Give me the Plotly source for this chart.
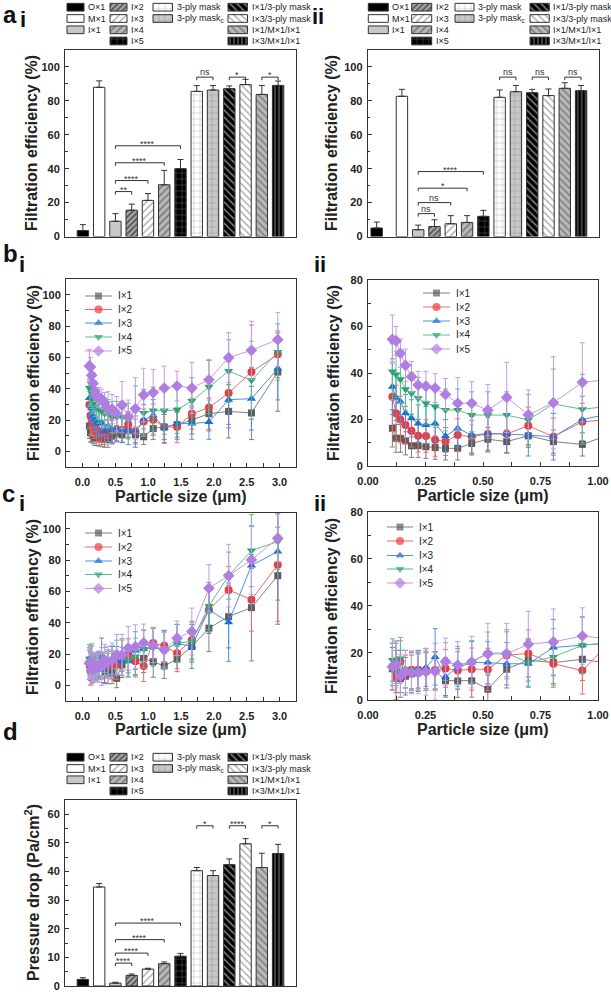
import plotly.graph_objects as go

# ======================= DATA =======================
bar_labels = ["O×1", "M×1", "I×1", "I×2", "I×3", "I×4", "I×5",
              "3-ply mask", "3-ply mask<sub>c</sub>", "I×1/3-ply mask",
              "I×3/3-ply mask", "I×1/M×1/I×1", "I×3/M×1/I×1"]

# panel a-i : filtration efficiency (%)
fe_i = [3.5, 88.0, 9.0, 15.5, 21.3, 30.5, 40.0, 85.6, 86.4, 87.2, 89.6, 83.8, 89.1]
fe_i_err = [3.5, 3.8, 4.5, 3.6, 4.0, 8.5, 5.4, 3.4, 2.6, 1.6, 3.1, 5.3, 2.6]
# panel a-ii
fe_ii = [5.0, 82.7, 4.0, 5.9, 7.5, 8.3, 11.9, 82.1, 85.4, 84.8, 83.1, 87.4, 86.0]
fe_ii_err = [3.5, 4.1, 2.7, 4.0, 4.8, 4.0, 3.5, 4.3, 3.7, 2.0, 3.9, 3.3, 3.1]
# panel d : pressure drop (Pa/cm2)
pdrop = [2.3, 34.6, 1.0, 3.7, 5.9, 7.8, 10.4, 40.3, 38.6, 42.4, 49.7, 41.4, 46.3]
pdrop_err = [0.6, 1.2, 0.3, 0.5, 0.3, 0.6, 1.0, 1.1, 1.7, 2.0, 1.8, 5.0, 3.2]

# significance brackets: (bar index 1, bar index 2, label, height)
sig_fe_i = [(2, 3, "**", 26.5), (2, 4, "****", 33.0), (2, 5, "****", 43.5), (2, 6, "****", 53.5),
            (7, 8, "ns", 94.0), (9, 10, "*", 94.0), (11, 12, "*", 94.0)]
sig_fe_ii = [(2, 3, "ns", 13.5), (2, 4, "ns", 20.0), (2, 5, "*", 28.5), (2, 6, "****", 38.3),
             (7, 8, "ns", 94.0), (9, 10, "ns", 94.0), (11, 12, "ns", 94.0)]
sig_pd = [(2, 3, "****", 8.0), (2, 4, "****", 11.5), (2, 5, "****", 16.2), (2, 6, "****", 22.0),
          (7, 8, "*", 56.0), (9, 10, "****", 56.0), (11, 12, "*", 56.0)]

series_names = ["I×1", "I×2", "I×3", "I×4", "I×5"]
size_um = [0.106, 0.122, 0.141, 0.163, 0.189, 0.218, 0.252, 0.292, 0.337, 0.390, 0.451, 0.521,
           0.603, 0.697, 0.806, 0.932, 1.077, 1.245, 1.440, 1.665, 1.925, 2.225, 2.572, 2.973]

# panel b
b_I1 = [16.2, 11.9, 11.9, 10.8, 8.7, 8.7, 8.3, 7.9, 7.6, 7.6, 9.7, 11.5, 10.5, 13.0, 10.5, 9.3, 14.5, 15.5, 17.0, 20.0, 24.0, 25.5, 24.5, 50.6]
b_I2 = [29.8, 22.7, 20.0, 17.6, 15.2, 13.0, 12.9, 11.2, 10.5, 13.3, 12.6, 13.8, 13.8, 17.3, 12.6, 19.0, 20.2, 15.5, 15.5, 24.0, 27.9, 37.2, 50.6, 61.9]
b_I3 = [34.1, 29.5, 27.7, 22.7, 20.5, 18.3, 17.6, 18.3, 12.9, 16.2, 13.3, 14.0, 13.8, 13.3, 12.6, 20.0, 23.0, 15.1, 17.7, 17.7, 18.7, 33.0, 33.6, 52.8]
b_I4 = [40.6, 39.4, 37.3, 33.0, 31.3, 29.1, 27.0, 25.5, 24.1, 24.1, 21.9, 21.9, 21.9, 19.8, 26.7, 24.4, 26.0, 26.0, 26.5, 32.1, 41.0, 51.2, 45.3, 63.4]
b_I5 = [54.5, 53.8, 48.5, 43.3, 38.4, 34.8, 34.3, 33.5, 30.8, 27.0, 27.0, 24.0, 29.5, 22.0, 27.2, 36.0, 37.5, 40.4, 41.7, 40.4, 45.7, 59.8, 64.5, 71.3]
b_I1_err = [8, 6, 6, 6, 5, 5, 5, 5, 5, 5, 5, 5, 5, 5, 5, 5, 7, 8, 8, 9, 10, 17, 17, 25]
b_I2_err = [15, 12, 10, 8, 7, 7, 7, 7, 6, 7, 7, 7, 8, 8, 8, 8, 10, 10, 10, 10, 15, 20, 30, 15]
b_I3_err = [12, 10, 9, 8, 8, 8, 8, 8, 7, 8, 8, 8, 8, 9, 10, 10, 10, 10, 10, 10, 11, 18, 20, 20]
b_I4_err = [12, 10, 10, 9, 9, 9, 9, 9, 9, 9, 10, 10, 10, 11, 15, 15, 15, 15, 15, 15, 17, 20, 25, 18]
b_I5_err = [10.5, 6.2, 6.1, 7.0, 6.6, 5.9, 6.4, 6.2, 6.8, 11.0, 9.3, 11.0, 15.1, 10.7, 19.8, 17.0, 14.8, 14.0, 9.5, 16.2, 13.0, 15.9, 18.5, 17.2]

# panel c
c_I1 = [13.2, 12.0, 9.0, 10.0, 11.0, 11.5, 12.0, 12.5, 8.1, 8.0, 8.1, 4.5, 13.0, 16.9, 15.8, 17.2, 15.2, 12.4, 16.7, 24.8, 36.5, 43.9, 49.6, 70.0]
c_I2 = [14.0, 9.1, 16.1, 11.0, 12.7, 12.7, 12.7, 12.5, 13.3, 12.4, 13.0, 12.9, 18.9, 19.7, 15.3, 12.4, 27.0, 25.2, 20.5, 29.0, 48.2, 60.9, 54.6, 76.9]
c_I3 = [15.0, 16.0, 12.0, 13.0, 12.0, 13.0, 13.7, 18.2, 9.8, 13.7, 15.8, 15.8, 15.3, 15.3, 22.2, 23.2, 24.4, 22.7, 26.9, 24.8, 48.2, 40.3, 76.5, 85.4]
c_I4 = [16.9, 15.0, 17.5, 13.0, 12.5, 12.0, 12.0, 12.0, 16.2, 14.7, 16.2, 19.8, 19.8, 15.8, 18.2, 23.2, 24.4, 22.7, 26.9, 28.0, 50.7, 70.0, 86.0, 91.8]
c_I5 = [14.0, 15.0, 10.1, 12.0, 11.5, 11.5, 11.9, 12.0, 16.2, 14.7, 16.0, 19.5, 19.5, 23.6, 24.6, 27.1, 25.5, 22.7, 30.1, 34.3, 62.0, 70.0, 80.1, 93.9]
c_I1_err = [9, 9, 8, 8, 8, 8, 8, 8, 7, 7, 7, 6, 8, 9, 9, 9, 10, 8, 8, 10, 15, 20, 34, 31]
c_I2_err = [10, 9, 9, 8, 8, 8, 8, 8, 8, 8, 9, 9, 10, 10, 10, 10, 10, 10, 10, 12, 15, 15, 20, 36]
c_I3_err = [9, 9, 9, 8, 8, 8, 8, 12, 8, 8, 9, 9, 9, 10, 12, 12, 12, 12, 12, 14, 15, 25, 25, 31]
c_I4_err = [9, 9, 9, 8, 8, 8, 8, 8, 8, 8, 9, 9, 10, 10, 12, 12, 12, 12, 12, 12, 15, 15, 23, 18]
c_I5_err = [10, 10, 9, 9, 9, 9, 10, 12, 10, 10, 11, 13, 13, 14, 14, 12, 11, 11, 11, 15, 15, 20, 22, 15]

b_series = [b_I1, b_I2, b_I3, b_I4, b_I5]
b_errors = [b_I1_err, b_I2_err, b_I3_err, b_I4_err, b_I5_err]
c_series = [c_I1, c_I2, c_I3, c_I4, c_I5]
c_errors = [c_I1_err, c_I2_err, c_I3_err, c_I4_err, c_I5_err]

# ======================= STYLE =======================
W, H = 611, 992
FONT = "Liberation Sans, Arial, sans-serif"
AXC = "#333333"
EDGE = "#333333"

BG = ["#000000", "#ffffff", "#c8c8c8", "#5a5a5a", "#ffffff", "#b8b8b8", "#000000",
      "#ffffff", "#c8c8c8", "#000000", "#ffffff", "#b8b8b8", "#000000"]
FG = ["#000000", "#ffffff", "#c8c8c8", "#111111", "#808080", "#505050", "#ffffff",
      "#707070", "#707070", "#909090", "#808080", "#555555", "#8a8a8a"]
SH = ["", "", "", "/", "/", "/", "+", "+", "+", "\\", "\\", "\\", "|"]
SZ = [6, 6, 6, 4, 5, 5, 6, 6, 6, 5, 5, 5, 4]
SO = [0.3, 0.3, 0.3, 0.5, 0.25, 0.35, 0.12, 0.12, 0.12, 0.3, 0.25, 0.3, 0.25]

MARK_C = ["#5c5c5c", "#ef3a3d", "#1f6fd6", "#28a66c", "#b07de3"]
LINE_C = ["#808080", "#f06a6c", "#4f8fe0", "#5cbd8f", "#c29bea"]
SYM = ["square", "circle", "triangle-up", "triangle-down", "diamond"]
MS = [7, 8, 8, 8, 9]

legend_cols = [[0, 1, 2], [3, 4, 5, 6], [7, 8], [9, 10, 11, 12]]

fig = go.Figure()


def marker_style(idx):
    return dict(color=[BG[k] for k in idx], line=dict(color=EDGE, width=1),
                pattern=dict(shape=[SH[k] for k in idx], bgcolor=[BG[k] for k in idx],
                             fgcolor=[FG[k] for k in idx], size=[SZ[k] for k in idx],
                             solidity=[SO[k] for k in idx], fillmode="overlay"))


def txt(x, y, s, size=10, bold=False, xanchor="left", yanchor="middle", angle=0, color="#222222"):
    fig.add_annotation(x=x / W, y=1 - y / H, xref="paper", yref="paper", text=s, showarrow=False,
                       xanchor=xanchor, yanchor=yanchor, textangle=angle, borderpad=0,
                       font=dict(family=FONT, size=size, color=color, weight="bold" if bold else "normal"))


def dom(frame):
    l, r, t, b = frame
    return [l / W, r / W], [1 - b / H, 1 - t / H]


def axis_base(**kw):
    d = dict(showline=True, linecolor=AXC, linewidth=1, mirror=True, showgrid=False, zeroline=False,
             ticks="inside", tickcolor=AXC, ticklen=4, tickwidth=1, automargin=False,
             tickfont=dict(family=FONT, size=11, color="#222222", weight="bold"))
    d.update(kw)
    return d


layout_axes = {}


def set_axes(n, frame, xkw, ykw):
    xd, yd = dom(frame)
    xs = "" if n == 1 else str(n)
    layout_axes["xaxis" + xs] = axis_base(domain=xd, anchor="y" + xs, **xkw)
    layout_axes["yaxis" + xs] = axis_base(domain=yd, anchor="x" + xs, **ykw)
    return "x" + xs, "y" + xs


def add_bars(vals, errs, pos, xa, ya):
    idx = list(range(len(vals)))
    fig.add_trace(go.Bar(x=pos, y=vals, width=0.7, marker=marker_style(idx),
                         error_y=dict(type="data", symmetric=False, array=errs,
                                      arrayminus=[0] * len(errs), color=EDGE, thickness=1, width=3),
                         xaxis=xa, yaxis=ya, showlegend=False, hoverinfo="skip"))


def add_brackets(sigs, pos, xa, ya, d):
    for i, j, lab, h in sigs:
        x1, x2 = pos[i], pos[j]
        fig.add_shape(type="path", path=f"M{x1},{h - d} L{x1},{h} L{x2},{h} L{x2},{h - d}",
                      xref=xa, yref=ya, line=dict(color="#333333", width=1))
        fig.add_annotation(x=(x1 + x2) / 2, y=h, xref=xa, yref=ya, text=lab, showarrow=False,
                           yanchor="bottom", yshift=-4 if "*" in lab else -1, borderpad=0,
                           font=dict(family=FONT, size=9, color="#333333"))


def add_lines(series, errs, xa, ya):
    for k in range(5):
        fig.add_trace(go.Scatter(x=size_um, y=series[k], mode="lines+markers", name=series_names[k],
                                 line=dict(color=LINE_C[k], width=1),
                                 marker=dict(symbol=SYM[k], size=MS[k], color=MARK_C[k], line=dict(width=0)),
                                 error_y=dict(type="data", array=errs[k], color=LINE_C[k], thickness=1, width=2.5),
                                 xaxis=xa, yaxis=ya, showlegend=False, hoverinfo="skip"))


# overlay pixel-space axes for the hand-made legends
layout_axes["xaxis8"] = dict(domain=[0, 1], range=[0, W], visible=False, fixedrange=True, anchor="y8",
                             automargin=False)
layout_axes["yaxis8"] = dict(domain=[0, 1], range=[H, 0], visible=False, fixedrange=True, anchor="x8",
                             automargin=False)


def bar_legend(col_x, col_w, row_y, sw_h=7.7):
    ys, xs, bs, idx = [], [], [], []
    for c, items in enumerate(legend_cols):
        for r, k in enumerate(items):
            ys.append(row_y[r]); xs.append(col_w[c]); bs.append(col_x[c]); idx.append(k)
            txt(col_x[c] + col_w[c] + 3, row_y[r], bar_labels[k], size=9)
    fig.add_trace(go.Bar(orientation="h", y=ys, x=xs, base=bs, width=[sw_h] * len(ys),
                         marker=marker_style(idx), xaxis="x8", yaxis="y8",
                         showlegend=False, hoverinfo="skip"))


def line_legend(x0, x1, row_y):
    for k in range(5):
        xm = (x0 + x1) / 2
        fig.add_trace(go.Scatter(x=[x0, xm, x1], y=[row_y[k]] * 3, mode="lines+markers",
                                 line=dict(color=LINE_C[k], width=1),
                                 marker=dict(symbol=SYM[k], size=[0, MS[k], 0], color=MARK_C[k], line=dict(width=0)),
                                 xaxis="x8", yaxis="y8", showlegend=False, hoverinfo="skip"))
        txt(x1 + 5, row_y[k], series_names[k], size=10)


# ---------------- frames (px: left, right, top, bottom) ----------------
F_AI = (65, 296, 50, 236.5)
F_AII = (367.7, 599, 50, 236.5)
F_BI = (66, 296, 279, 467)
F_BII = (368, 598, 280, 466)
F_CI = (66, 296, 513, 701)
F_CII = (368, 598, 511.7, 699.7)
F_D = (65, 296, 800, 986)

pos_i = list(range(13))
pos_ii = [-0.55] + list(range(1, 13))

bar_x = dict(range=[-1.1, 13.1], showticklabels=False, ticks="")
fe_y = dict(range=[0, 110], tick0=0, dtick=20, ticklabelstandoff=2,
            minor=dict(dtick=10, ticks="inside", ticklen=2.5, tickcolor=AXC))

xa, ya = set_axes(1, F_AI, bar_x, fe_y)
add_bars(fe_i, fe_i_err, pos_i, xa, ya)
add_brackets(sig_fe_i, pos_i, xa, ya, 1.8)

xa, ya = set_axes(2, F_AII, bar_x, fe_y)
add_bars(fe_ii, fe_ii_err, pos_ii, xa, ya)
add_brackets(sig_fe_ii, pos_ii, xa, ya, 1.8)

xa, ya = set_axes(7, F_D, bar_x, dict(range=[0, 65], tick0=0, dtick=10, ticklabelstandoff=2,
                                       minor=dict(dtick=5, ticks="inside", ticklen=2.5, tickcolor=AXC)))
add_bars(pdrop, pdrop_err, pos_i, xa, ya)
add_brackets(sig_pd, pos_i, xa, ya, 1.0)

full_x = dict(range=[-0.25, 3.25], tick0=0, dtick=0.5, tickformat=".1f", ticklabelstandoff=5,
              minor=dict(dtick=0.25, ticks="inside", ticklen=4, tickcolor=AXC))
zoom_x = dict(range=[0, 1], tick0=0, dtick=0.25, tickformat=".2f", ticklabelstandoff=5,
              minor=dict(dtick=0.125, ticks="inside", ticklen=4, tickcolor=AXC))
full_y = dict(range=[-10, 110], tick0=0, dtick=20, ticklabelstandoff=2,
              minor=dict(dtick=10, ticks="inside", ticklen=2.5, tickcolor=AXC))
zoom_y = dict(range=[0, 80], tick0=0, dtick=20, ticklabelstandoff=2,
              minor=dict(dtick=10, ticks="inside", ticklen=2.5, tickcolor=AXC))

xa, ya = set_axes(3, F_BI, full_x, full_y)
add_lines(b_series, b_errors, xa, ya)
xa, ya = set_axes(4, F_BII, zoom_x, zoom_y)
add_lines(b_series, b_errors, xa, ya)
xa, ya = set_axes(5, F_CI, full_x, full_y)
add_lines(c_series, c_errors, xa, ya)
xa, ya = set_axes(6, F_CII, zoom_x, zoom_y)
add_lines(c_series, c_errors, xa, ya)

# ---------------- legends ----------------
bar_legend([67, 110, 153, 228], [17, 17, 19.5, 19.5], [7.2, 18.5, 29.8, 41])
bar_legend([368.3, 411.7, 455, 530], [20, 20, 19, 19.3], [7.2, 18.5, 29.8, 41])
bar_legend([67, 110, 153, 228], [17, 17, 19.5, 19.5], [757.2, 768.5, 779.8, 791])
line_legend(85, 112, [296, 309.5, 323, 337, 351])
line_legend(423, 450, [293, 307, 321, 335, 349])
line_legend(85, 112, [533, 547, 561, 574.5, 588.5])
line_legend(387, 413, [527, 541, 555.5, 569, 583])

# ---------------- titles and labels ----------------
fe_title = "Filtration efficiency (%)"
txt(31, 143, fe_title, size=16, bold=True, xanchor="center", angle=-90)
txt(331, 143, fe_title, size=16, bold=True, xanchor="center", angle=-90)
txt(33, 373, fe_title, size=16, bold=True, xanchor="center", angle=-90)
txt(333, 373, fe_title, size=16, bold=True, xanchor="center", angle=-90)
txt(32, 607, fe_title, size=16, bold=True, xanchor="center", angle=-90)
txt(331, 606, fe_title, size=16, bold=True, xanchor="center", angle=-90)
txt(32, 893, "Pressure drop (Pa/cm<sup>2</sup>)", size=16, bold=True, xanchor="center", angle=-90)

ps_title = "Particle size (μm)"
txt(181, 496, ps_title, size=16, bold=True, xanchor="center")
txt(483, 495, ps_title, size=16, bold=True, xanchor="center")
txt(181, 729, ps_title, size=16, bold=True, xanchor="center")
txt(483, 729, ps_title, size=16, bold=True, xanchor="center")

# panel letters
txt(2, 14, "a", size=24, bold=True, xanchor="left", color="#111111")
txt(23, 19, "i", size=22, bold=True, xanchor="center", color="#111111")
txt(318, 17, "ii", size=22, bold=True, xanchor="center", color="#111111")
txt(2, 253, "b", size=24, bold=True, xanchor="left", color="#111111")
txt(22, 264, "i", size=22, bold=True, xanchor="center", color="#111111")
txt(320, 264, "ii", size=22, bold=True, xanchor="center", color="#111111")
txt(1, 493, "c", size=24, bold=True, xanchor="left", color="#111111")
txt(22, 503, "i", size=22, bold=True, xanchor="center", color="#111111")
txt(320, 503, "ii", size=22, bold=True, xanchor="center", color="#111111")
txt(2, 731, "d", size=24, bold=True, xanchor="left", color="#111111")

fig.update_layout(template="none", width=W, height=H, autosize=False,
                  margin=dict(l=0, r=0, t=0, b=0, pad=0, autoexpand=False),
                  paper_bgcolor="white", plot_bgcolor="rgba(0,0,0,0)", barmode="overlay",
                  showlegend=False, font=dict(family=FONT), **layout_axes)

fig.write_html("out.html", config={"displayModeBar": False, "staticPlot": True},
               post_script="document.body.style.margin='0px';")
